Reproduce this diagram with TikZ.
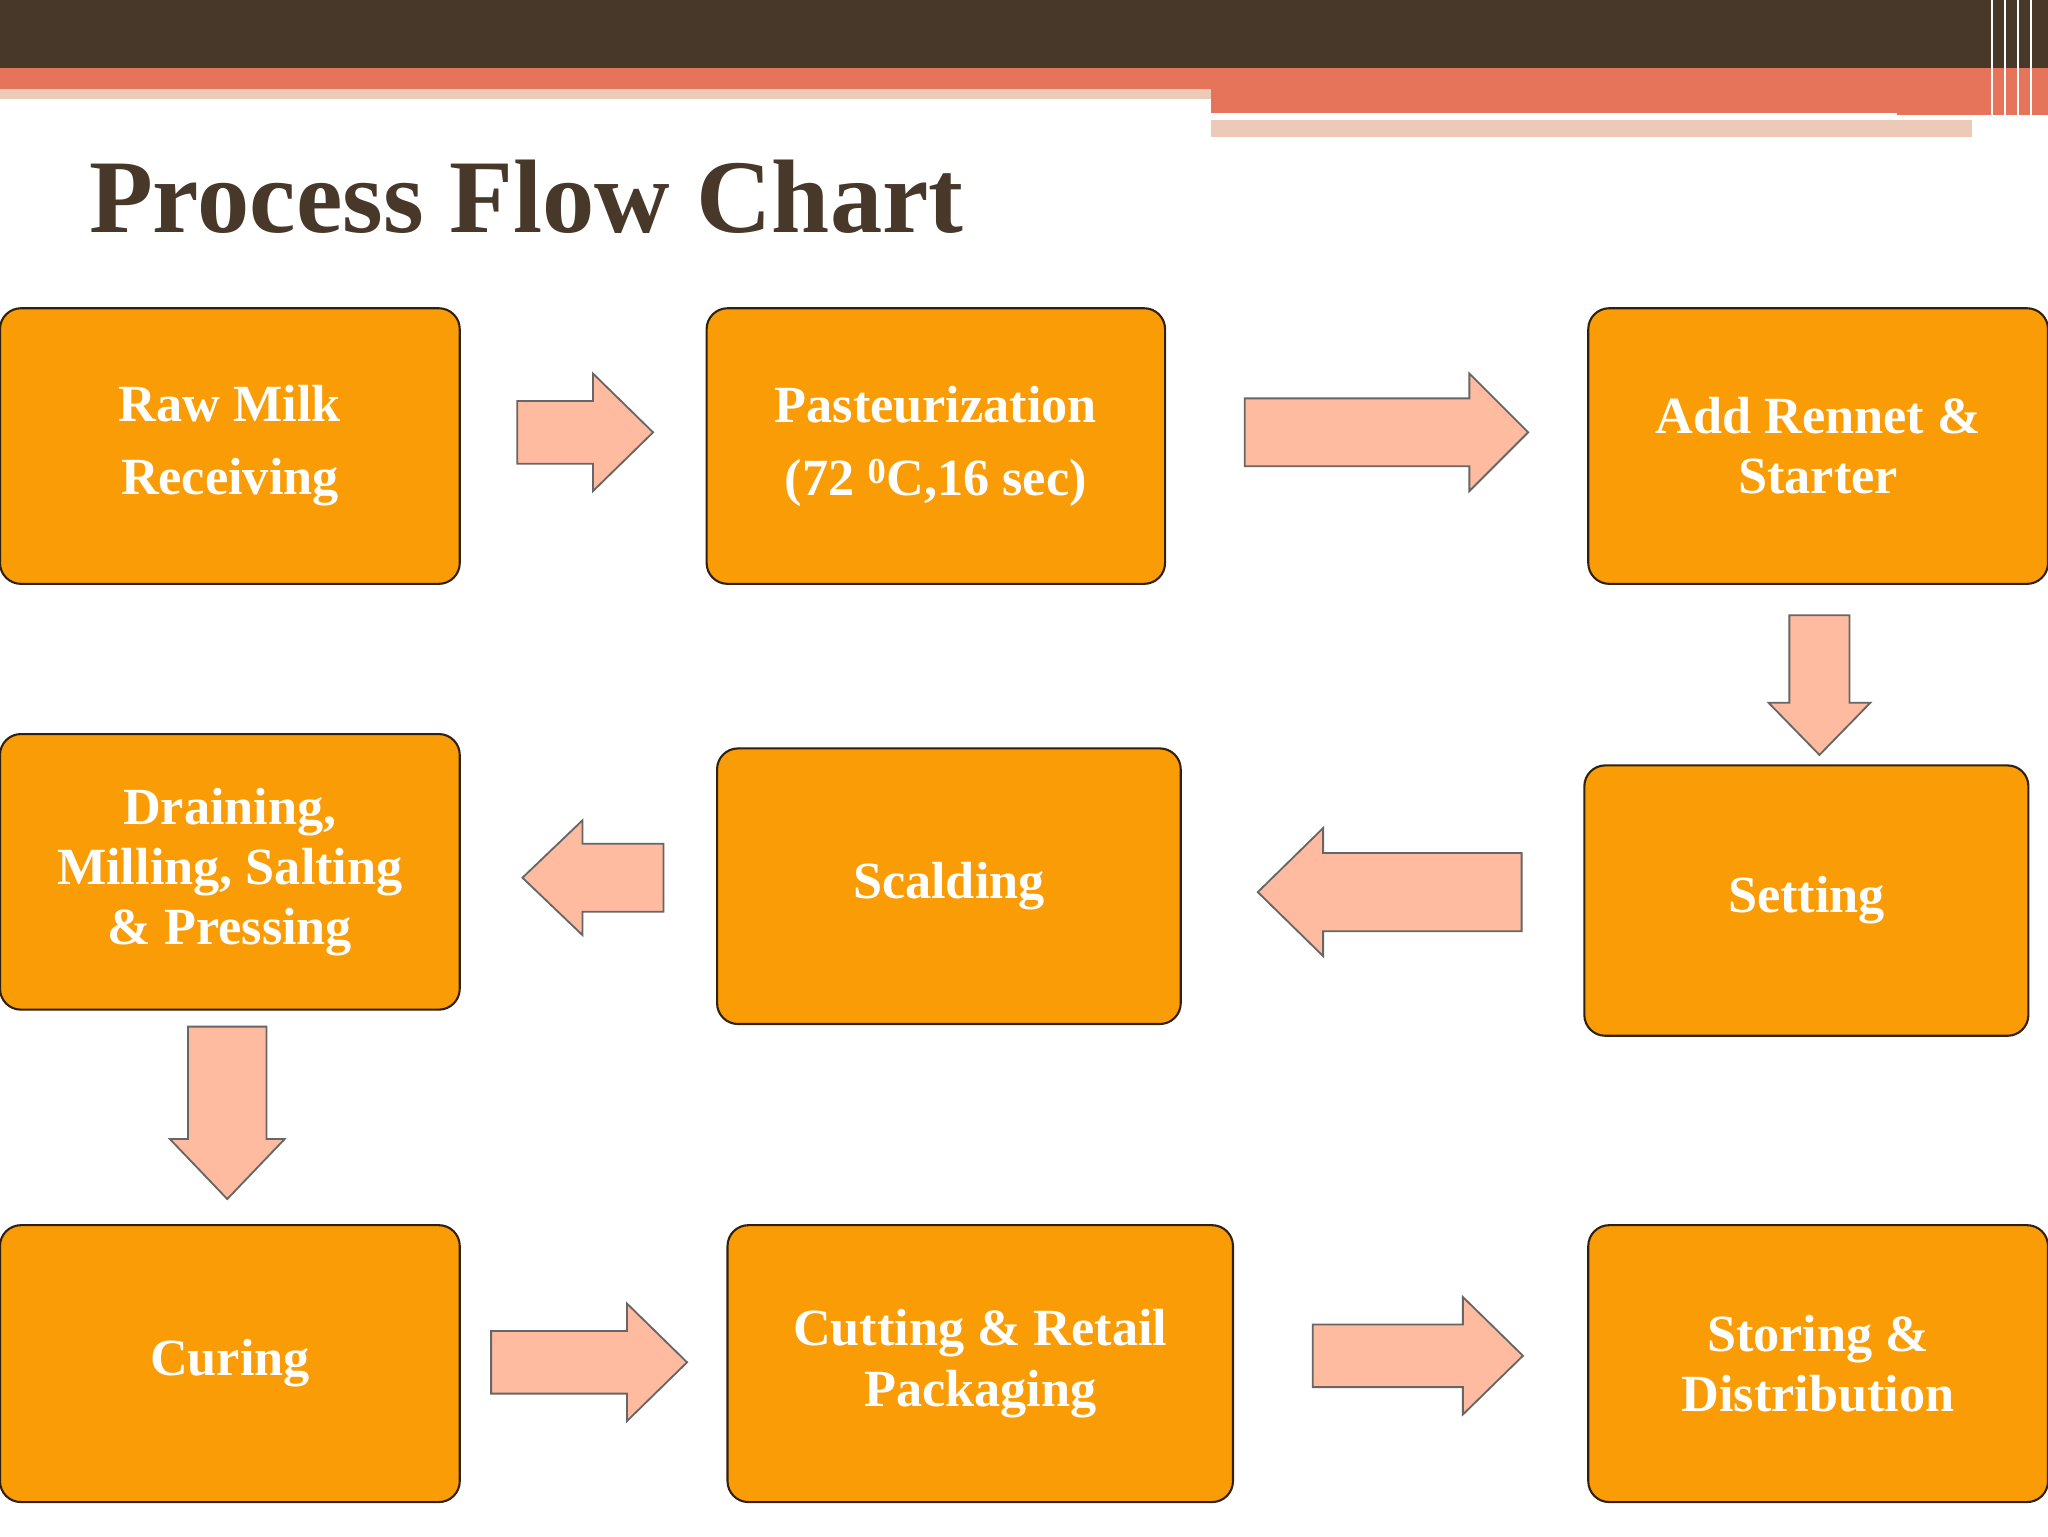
\documentclass[tikz,border=0pt]{standalone}
\usepackage{fontspec}
\setmainfont{Liberation Serif}
\begin{document}
\begin{tikzpicture}[x=1pt,y=-1pt,
  stepbox/.style={draw=black!75!brown,line width=1.6pt,fill=orange!75!yellow!90!brown,rounded corners=16pt,
    text=white,font=\bfseries\fontsize{40}{46}\selectfont,align=center,inner sep=0pt},
  barrow/.style={draw=gray!80!black,line width=1.4pt,fill=orange!25!pink!85!white,line join=miter}]
\useasboundingbox (0,0) rectangle (1568,1176);
\fill[white] (0,0) rectangle (1568,1176);
% banner
\fill[black!70!brown!80!gray] (0,0) rectangle (1568,52);
\fill[red!45!brown!75!white] (0,52) rectangle (1568,68);
\fill[red!20!brown!35!white] (0,68) rectangle (927,76);
\fill[red!45!brown!75!white] (927,68) rectangle (1568,88);
\fill[red!20!brown!35!white] (927,92) rectangle (1510,105);
\draw[white,line width=3pt] (927,88) -- (1452,88);
\foreach \x in {1525,1535,1545,1555} \draw[white,line width=1.2pt] (\x,0) -- (\x,105);
% title
\node[anchor=base west,inner sep=0pt,text=black!70!brown!80!gray,font=\bfseries\fontsize{80}{90}\selectfont] (title) at (68,178) {Process Flow Chart};
% boxes
\newcommand\bx[6]{\draw[stepbox] (#2,#3) rectangle (#4,#5); \node[stepbox,draw=none,fill=none] (#1) at ({(#2+#4)/2},{(#3+#5)/2}) {#6};}
\bx{raw}{0}{236}{352}{447}{Raw Milk\\[10pt]Receiving}
\bx{past}{541}{236}{892}{447}{Pasteurization\\[10pt](72 \textsuperscript{0}C,16 sec)}
\bx{add}{1216}{236}{1568}{447}{Add Rennet \&\\Starter}
\bx{set}{1213}{586}{1553}{793}{Setting}
\bx{scald}{549}{573}{904}{784}{Scalding}
\bx{drain}{0}{562}{352}{773}{Draining,\\Milling, Salting\\\& Pressing}
\bx{cur}{0}{938}{352}{1150}{Curing}
\bx{cut}{557}{938}{944}{1150}{Cutting \& Retail\\Packaging}
\bx{stor}{1216}{938}{1568}{1150}{Storing \&\\Distribution}
% block arrows
\newcommand\arrR[6]{\draw[barrow] (#1,#3-#4) -- (#2-#6,#3-#4) -- (#2-#6,#3-#5) -- (#2,#3) -- (#2-#6,#3+#5) -- (#2-#6,#3+#4) -- (#1,#3+#4) -- cycle;}
\newcommand\arrL[6]{\draw[barrow] (#1,#3-#4) -- (#2+#6,#3-#4) -- (#2+#6,#3-#5) -- (#2,#3) -- (#2+#6,#3+#5) -- (#2+#6,#3+#4) -- (#1,#3+#4) -- cycle;}
\newcommand\arrD[6]{\draw[barrow] (#1-#4,#2) -- (#1-#4,#3-#6) -- (#1-#5,#3-#6) -- (#1,#3) -- (#1+#5,#3-#6) -- (#1+#4,#3-#6) -- (#1+#4,#2) -- cycle;}
\arrR{396}{500}{331}{24}{45}{46}
\arrR{953}{1170}{331}{26}{45}{45}
\arrD{1393}{471}{578}{23}{39}{40}
\arrL{1165}{963}{683}{30}{49}{50}
\arrL{508}{400}{672}{26}{44}{46}
\arrD{174}{786}{918}{30}{44}{46}
\arrR{376}{526}{1043}{24}{45}{46}
\arrR{1005}{1166}{1038}{24}{45}{46}
\end{tikzpicture}
\end{document}
